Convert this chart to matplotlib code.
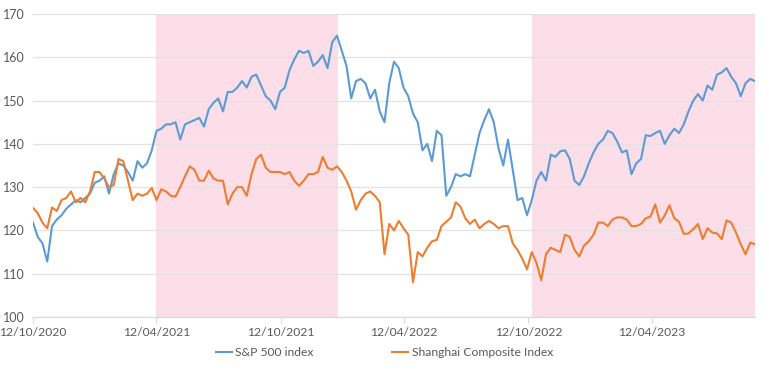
import numpy as np
import pandas as pd
import matplotlib
matplotlib.use("Agg")
import matplotlib.pyplot as plt
import matplotlib.dates as mdates

# weekly readings, indexed to the start date
start_date = "2020-10-12"

sp500 = [121.8, 118.5, 117, 112.8, 121, 122.5, 123.5, 125, 126, 127,
         126.5, 127.5, 128.5, 131, 131.5, 132.5, 128.5, 133, 135.5, 135,
         133.5, 131.5, 136, 134.5, 135.5, 138.5, 143, 143.5, 144.5, 144.5,
         145, 141, 144.5, 145, 145.5, 146, 144, 148, 149.5,
         150.5, 147.5, 152, 152, 153, 154.5, 153, 155.5, 156, 153.5,
         151, 150, 148, 152, 153, 157, 159.5, 161.5, 161,
         161.5, 158, 159, 160.5, 157.5, 163.5, 165, 161.5, 158, 150.5,
         154.5, 155, 154, 150.5, 152.5, 147.5, 145, 154, 159,
         157.5, 153, 151, 147, 145, 138.5, 140, 136, 143, 142,
         128, 130, 133, 132.5, 133, 132.5, 137.5, 142.5, 145.5,
         148, 145, 139, 135, 141, 134, 127, 127.5, 123.5, 127,
         131.5, 133.5, 131.5, 137.5, 137, 138.3, 138.5, 136.5, 131.5,
         130.5, 132.5, 135.5, 138, 140, 141, 143, 142.5, 140.5, 138,
         138.5, 133, 135.5, 136.5, 142, 141.8, 142.5, 143, 140, 142,
         143.5, 142.5, 144.5, 147.5, 150, 151.5, 150, 153.5, 152.5, 156,
         156.5, 157.5, 155.5, 154, 151, 154, 155, 154.5]

shanghai = [125.2, 124, 121.8, 120.5, 125.3, 124.5, 127, 127.5, 129, 126.5,
            127.5, 126.5, 129, 133.5, 133.5, 132, 130, 130.5, 136.5, 136,
            131.5, 127, 128.5, 128, 128.5, 129.8, 127, 129.5, 129, 128,
            127.8, 130, 132.5, 134.8, 134, 131.5, 131.5, 133.8, 132,
            131.5, 131.5, 126, 128.5, 130, 130, 128, 133, 136.5, 137.5,
            134.5, 133.5, 133.5, 133.5, 133, 133.5, 131.5, 130.3, 131.5,
            133, 133, 133.5, 137, 134.5, 134, 134.8, 133.5, 131.5, 129,
            124.8, 127, 128.5, 129, 128, 126.5, 114.5, 121.5, 120,
            122.2, 120.5, 119, 108, 115, 114, 116, 117.5, 117.8, 121,
            122, 123, 126.5, 125.5, 122.8, 121.5, 122.5, 120.5, 121.5,
            122.2, 121.5, 120.5, 121, 121, 117, 115.5, 113.5, 111, 115,
            112.5, 108.5, 114.5, 116, 115.5, 115, 119, 118.5, 115.5,
            114, 116.5, 117.5, 119, 121.8, 121.8, 121, 122.5, 123, 123,
            122.5, 121, 121, 121.5, 122.8, 123.2, 126, 121.8, 123.5, 125.8,
            122.8, 122, 119.2, 119.3, 120.3, 121.5, 118, 120.5, 119.5, 119.3,
            118, 122.3, 121.8, 119.5, 116.8, 114.5, 117.2, 116.8]

dates = pd.date_range(start_date, periods=len(sp500), freq="7D")

# shaded periods
shade_periods = [("2021-04-12", "2022-01-05"), ("2022-10-18", str(dates[-1].date()))]
tick_dates = ["2020-10-12", "2021-04-12", "2021-10-12", "2022-04-12", "2022-10-12", "2023-04-12"]

blue = "#5b9bd5"
orange = "#ed7d31"
pink = "#fbdee7"
text_col = "#595959"

plt.rcParams["font.family"] = ["Lato", "DejaVu Sans"]

fig = plt.figure(figsize=(7.69, 3.87), dpi=100)
ax = fig.add_axes([33 / 769, 1 - 317 / 387, 722 / 769, 303 / 387])

for a, b in shade_periods:
    ax.axvspan(pd.Timestamp(a), pd.Timestamp(b), color=pink, lw=0, zorder=0)

ax.plot(dates, sp500, color=blue, lw=1.5, label="S&P 500 index", zorder=3)
ax.plot(dates, shanghai, color=orange, lw=1.5, label="Shanghai Composite Index", zorder=4)

ax.set_ylim(100, 170)
ax.set_yticks(range(100, 171, 10))
ax.set_xlim(dates[0], dates[-1])
ax.set_xticks([pd.Timestamp(d) for d in tick_dates])
ax.xaxis.set_major_formatter(mdates.DateFormatter("%d/%m/%Y"))

ax.grid(axis="y", color="#e3e3e3", lw=0.9, zorder=1)
ax.set_axisbelow(True)
for s in ["top", "right", "left"]:
    ax.spines[s].set_visible(False)
ax.spines["bottom"].set_color("#d9d9d9")
ax.tick_params(axis="y", length=0, pad=6, labelsize=9, labelcolor=text_col)
ax.tick_params(axis="x", length=4, color="#d9d9d9", pad=3, labelsize=8.7, labelcolor=text_col)

fig.legend(loc="center", bbox_to_anchor=(0.5, 1 - 353 / 387), ncol=2, frameon=False,
           handlelength=1.3, handletextpad=0.3, columnspacing=6.5,
           prop={"size": 8.7}, labelcolor=text_col)

fig.savefig("out.png", dpi=100)
